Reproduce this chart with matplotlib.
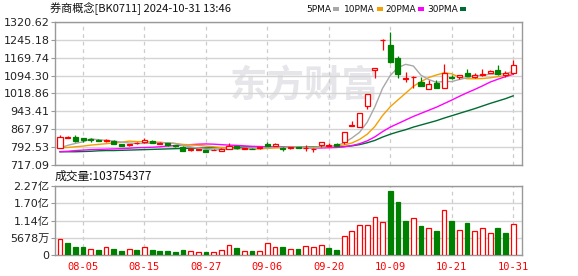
import matplotlib
matplotlib.use('Agg')
import matplotlib.pyplot as plt
from matplotlib.patches import Rectangle

plt.rcParams['font.family'] = ['DejaVu Sans', 'Noto Sans CJK SC']

title = '券商概念[BK0711] 2024-10-31 13:46'
vol_text = '成交量:103754377'

dates = ['07-31', '08-01', '08-02', '08-05', '08-06', '08-07', '08-08', '08-09', '08-12', '08-13',
         '08-14', '08-15', '08-16', '08-19', '08-20', '08-21', '08-22', '08-23', '08-26', '08-27',
         '08-28', '08-29', '08-30', '09-02', '09-03', '09-04', '09-05', '09-06', '09-09', '09-10',
         '09-11', '09-12', '09-13', '09-18', '09-19', '09-20', '09-23', '09-24', '09-25', '09-26',
         '09-27', '09-30', '10-08', '10-09', '10-10', '10-11', '10-14', '10-15', '10-16', '10-17',
         '10-18', '10-21', '10-22', '10-23', '10-24', '10-25', '10-28', '10-29', '10-30', '10-31']
label_dates = ['08-05', '08-15', '08-27', '09-06', '09-20', '10-09', '10-21', '10-31']

opens = [790, 832, 836, 829, 826, 823, 818, 820, 804, 801,
         809, 813, 817, 806, 810, 800, 793, 779, 780, 779,
         780, 778, 784, 797, 785, 785, 787, 807, 797, 790,
         788, 791, 787, 783, 800, 799, 804, 813, 882, 879,
         967, 1117, 1244, 1224, 1167, 1082, 1089, 1069, 1038, 1062,
         1043, 1089, 1087, 1104, 1087, 1097, 1105, 1117, 1097, 1104]
highs = [844, 838, 842, 832, 830, 826, 826, 821, 806, 806,
         813, 830, 821, 813, 811, 803, 797, 787, 785, 780,
         783, 787, 808, 799, 789, 787, 792, 813, 808, 791,
         795, 794, 800, 787, 815, 808, 808, 857, 903, 936,
         1016, 1128, 1247, 1277, 1177, 1111, 1092, 1090, 1077, 1076,
         1142, 1096, 1099, 1121, 1104, 1121, 1116, 1139, 1114, 1160]
lows = [789, 830, 815, 815, 815, 817, 816, 805, 797, 799,
        807, 812, 810, 805, 799, 795, 776, 778, 779, 772,
        779, 777, 783, 786, 784, 783, 786, 796, 796, 776,
        786, 788, 775, 772, 795, 797, 797, 807, 881, 878,
        952, 1083, 1202, 1148, 1083, 1066, 1041, 1050, 1036, 1041,
        1041, 1079, 1082, 1093, 1086, 1092, 1104, 1099, 1088, 1103]
closes = [835, 835, 820, 821, 823, 819, 821, 807, 799, 804,
          811, 821, 811, 811, 800, 797, 778, 784, 783, 774,
          782, 785, 796, 788, 787, 784, 791, 797, 804, 783,
          794, 790, 790, 785, 813, 802, 799, 855, 884, 935,
          1015, 1126, 1246, 1151, 1102, 1085, 1090, 1052, 1059, 1044,
          1104, 1086, 1097, 1094, 1095, 1103, 1115, 1100, 1104, 1139]

ma5 = [789, 800, 808, 815, 827, 824, 821, 818, 814, 810,
       808, 808, 809, 812, 811, 808, 799, 794, 788, 783,
       780, 782, 784, 785, 788, 788, 789, 789, 793, 792,
       794, 794, 792, 788, 794, 796, 798, 811, 831, 855,
       898, 963, 1041, 1095, 1128, 1142, 1135, 1096, 1078, 1066,
       1070, 1069, 1078, 1085, 1095, 1095, 1101, 1101, 1103, 1112]
ma10 = [790, 791, 794, 797, 801, 804, 807, 810, 813, 818,
        816, 815, 814, 813, 810, 808, 804, 802, 800, 797,
        794, 791, 789, 787, 785, 784, 785, 787, 789, 790,
        791, 791, 791, 791, 793, 795, 796, 802, 810, 825,
        847, 880, 926, 963, 992, 1020, 1049, 1069, 1086, 1097,
        1106, 1102, 1087, 1081, 1081, 1082, 1085, 1090, 1094, 1104]
ma20 = [773, 775, 778, 780, 782, 783, 784, 785, 786, 788,
        790, 791, 792, 794, 797, 799, 801, 803, 805, 806,
        805, 803, 801, 800, 798, 796, 795, 794, 794, 793,
        792, 791, 790, 789, 789, 790, 791, 794, 799, 807,
        819, 836, 858, 877, 892, 907, 922, 935, 948, 961,
        976, 991, 1007, 1022, 1036, 1051, 1067, 1079, 1090, 1100]
ma30 = [773, 773, 773, 774, 775, 777, 778, 778, 779, 780,
        781, 782, 783, 784, 785, 786, 787, 788, 788, 789,
        790, 790, 791, 792, 793, 794, 794, 794, 794, 794,
        794, 793, 793, 793, 793, 793, 793, 795, 798, 803,
        811, 821, 835, 847, 857, 866, 877, 886, 895, 904,
        915, 925, 935, 945, 955, 966, 977, 987, 997, 1009]

volumes = [52.4e6, 41.3e6, 27.2e6, 27.2e6, 20.6e6, 17.4e6, 26.2e6, 20.6e6, 14.1e6, 19.7e6,
           17.4e6, 26.2e6, 17.4e6, 14.1e6, 14.1e6, 10.8e6, 17.4e6, 14.1e6, 10.8e6, 10.8e6,
           10.8e6, 17.4e6, 33.8e6, 23.9e6, 14.1e6, 14.1e6, 14.1e6, 40.3e6, 26.2e6, 27.2e6,
           20.6e6, 20.6e6, 29.5e6, 26.2e6, 32.8e6, 23.9e6, 17.4e6, 62.3e6, 78.7e6, 98.3e6,
           98.3e6, 124.5e6, 108.2e6, 210.7e6, 174.7e6, 112.4e6, 121.3e6, 96.0e6, 88.5e6, 79.6e6,
           147.5e6, 112.4e6, 81.9e6, 105.9e6, 78.7e6, 88.5e6, 73.1e6, 89.5e6, 73.1e6, 103.75e6]
vol_up = [1, 0, 0, 0, 1, 0, 1, 0, 0, 1,
          0, 1, 0, 0, 0, 0, 0, 1, 1, 0,
          1, 1, 1, 0, 1, 0, 1, 1, 1, 0,
          1, 0, 1, 1, 1, 0, 0, 1, 1, 1,
          1, 1, 1, 0, 0, 0, 1, 0, 1, 0,
          1, 0, 1, 0, 1, 1, 1, 0, 0, 1]

price_ticks = [717.09, 792.53, 867.97, 943.41, 1018.86, 1094.30, 1169.74, 1245.18, 1320.62]
vol_ticks = [0, 56.78e6, 113.56e6, 170.34e6, 227.12e6]
vol_tick_labels = ['0', '5678万', '1.14亿', '1.70亿', '2.27亿']

ma_names = ['5PMA', '10PMA', '20PMA', '30PMA']
ma_colors = ['#a8a8a8', '#f5a000', '#ff00ff', '#006b33']

RED = '#ff0000'
GREEN = '#008000'
W, H = 578, 276


def px(x, y, w, h):
    # pixel box -> figure fraction
    return [x / W, 1 - (y + h) / H, w / W, h / H]


def style_axes(ax):
    for s in ax.spines.values():
        s.set_color('#999999')
        s.set_linewidth(1)
    ax.set_xlim(-0.65, 60.15)
    ax.grid(axis='y', color='#d4d4d4', lw=1, ls='-')
    ax.set_axisbelow(True)
    for d in label_dates:
        ax.axvline(dates.index(d), color='#cccccc', lw=0.9, ls=(0, (3, 3)), zorder=0.5)
    ax.tick_params(axis='y', length=3, color='#999999', labelsize=8, labelcolor='#222222', pad=1)


def plot_kline():
    fig = plt.figure(figsize=(W / 100, H / 100), dpi=100)
    ax = fig.add_axes(px(55, 22, 467, 143))
    axv = fig.add_axes(px(55, 186, 467, 69.3))

    style_axes(ax)
    ax.set_ylim(price_ticks[0], price_ticks[-1])
    ax.set_yticks(price_ticks)
    ax.set_yticklabels(['%.2f' % v for v in price_ticks])
    ax.set_xticks([])

    ax.text(0.535, 0.55, '东方财富', transform=ax.transAxes, ha='center', va='center',
            fontsize=27, fontweight='bold', color='#e6e6ea', family='Noto Sans CJK SC', zorder=0)

    x = list(range(len(dates)))
    for ma, c in zip([ma30, ma20, ma10, ma5], ma_colors[::-1]):
        ax.plot(x, ma, color=c, lw=1, zorder=2)

    for i in x:
        up = closes[i] >= opens[i]
        col = RED if up else GREEN
        ax.vlines(i, lows[i], highs[i], color=col, lw=0.9, zorder=3)
        ax.bar(i, closes[i] - opens[i], bottom=opens[i], width=0.66,
               facecolor='white' if up else col, edgecolor=col, lw=0.9, zorder=4)

    style_axes(axv)
    axv.set_ylim(0, vol_ticks[-1])
    axv.set_yticks(vol_ticks)
    axv.set_yticklabels(vol_tick_labels)
    for i in x:
        col = RED if vol_up[i] else GREEN
        axv.bar(i, volumes[i], width=0.62, facecolor='white' if vol_up[i] else col,
                edgecolor=col, lw=0.9, zorder=3)
    axv.set_xticks([dates.index(d) for d in label_dates])
    axv.set_xticklabels(label_dates, family='DejaVu Sans Mono', fontsize=7.5, color=RED)
    axv.tick_params(axis='x', length=0, pad=5)

    fig.text(50 / W, 1 - 9 / H, title, ha='left', va='center', fontsize=8,
             family=['Noto Sans CJK SC', 'DejaVu Sans'], color='#111111')
    fig.text(55 / W, 1 - 176 / H, vol_text, ha='left', va='center', fontsize=8.5,
             family=['Noto Sans CJK SC', 'DejaVu Sans'], color='#111111')

    lx = [306, 344, 385, 427]
    for name, c, x0 in zip(ma_names, ma_colors, lx):
        t = fig.text(x0 / W, 1 - 9 / H, name, ha='left', va='center', fontsize=6.5, color='#111111')
        fig.canvas.draw()
        bb = t.get_window_extent()
        fig.patches.append(Rectangle(((bb.x1 + 2) / W, 1 - 11 / H), 6 / W, 4 / H,
                                     transform=fig.transFigure, facecolor=c, edgecolor='none'))

    fig.savefig('out.png', dpi=100)


plot_kline()
